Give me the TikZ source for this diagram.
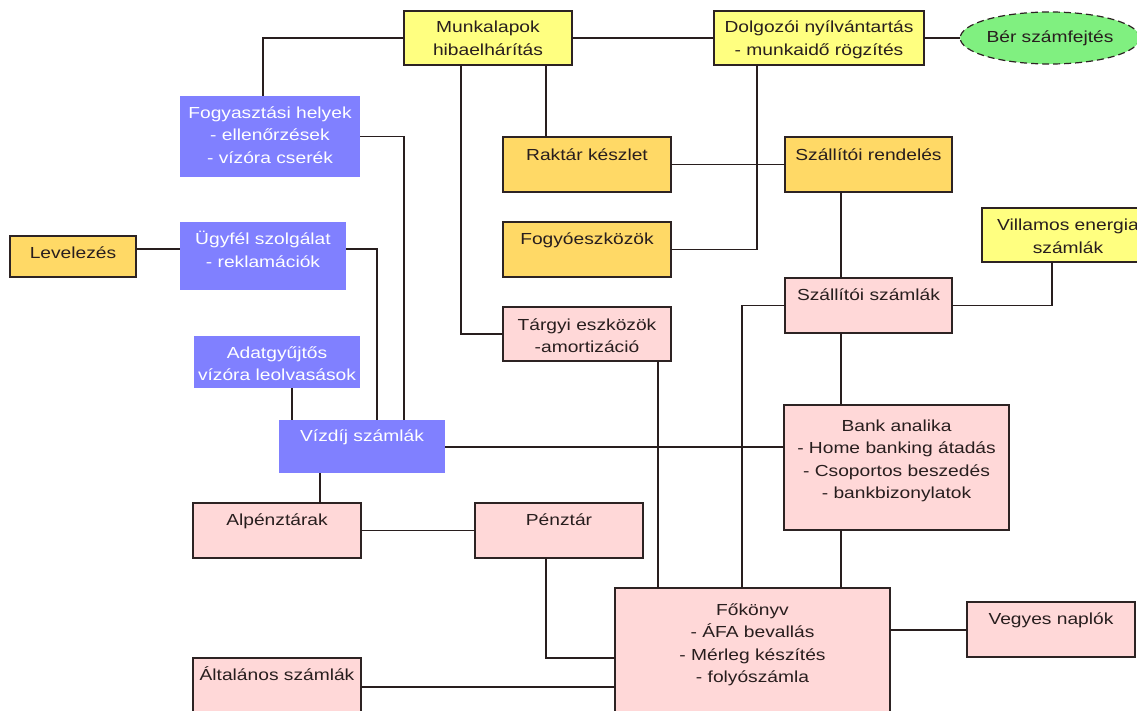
\documentclass[tikz,border=0pt]{standalone}
\usepackage{fontspec}
\setmainfont[FakeStretch=1.2]{Liberation Sans}
\usetikzlibrary{fit,shapes.geometric,calc}
\definecolor{cyel}{RGB}{255,255,128}
\definecolor{corg}{RGB}{255,217,102}
\definecolor{cblu}{RGB}{128,128,255}
\definecolor{cpnk}{RGB}{255,216,216}
\definecolor{cgrn}{RGB}{128,240,128}
\definecolor{cedge}{RGB}{45,35,35}
\definecolor{ctxt}{RGB}{40,30,30}
\tikzset{
 boxbase/.style={rectangle, inner sep=0pt, outer sep=0pt, line width=1.2pt, draw=cedge},
 yel/.style={boxbase, fill=cyel},
 org/.style={boxbase, fill=corg},
 pnk/.style={boxbase, fill=cpnk},
 blu/.style={rectangle, inner sep=0pt, outer sep=0pt, fill=cblu},
 txt/.style={inner sep=0pt, align=center, text height=11pt, text depth=0pt, font=\fontsize{16}{22.5}\selectfont, text=ctxt},
 wtxt/.style={txt, text=white},
 ell/.style={ellipse, draw=cedge, line width=1.2pt, dash pattern=on 7pt off 4pt, fill=cgrn, minimum width=166pt, minimum height=52pt, inner sep=0pt, align=center, font=\fontsize{16}{22.5}\selectfont, text=ctxt},
 link/.style={line width=1.1pt, draw=ctxt},
}
% #6 = y of the centre of the LAST text line
\newcommand\bx[7]{\node[#1, fit={(#3) (#4)}] (#2) {};
  \node[#5] (#2-t) at (#2.center |- 0,#6) {#7};}
\begin{document}
\begin{tikzpicture}[x=1pt,y=-1pt]
\clip (0,0) rectangle (1137,711);
\fill[white] (0,0) rectangle (1137,711);
% boxes
\bx{yel}{mk}{404,11}{572,65}{txt}{50}{Munkalapok\\hibaelhárítás}
\bx{yel}{dg}{714,11}{924,65}{txt}{50}{Dolgozói nyílvántartás\\- munkaidő rögzítés}
\node[ell] (ber) at (1050,38) {Bér számfejtés};
\bx{blu}{fh}{180,96}{360,177}{wtxt}{158}{Fogyasztási helyek\\- ellenőrzések\\- vízóra cserék}
\bx{org}{rk}{503,137}{671,192}{txt}{155}{Raktár készlet}
\bx{org}{szr}{785,137}{952,192}{txt}{155}{Szállítói rendelés}
\bx{org}{lev}{10,236}{136,277}{txt}{253}{Levelezés}
\bx{blu}{ugy}{180,222}{346,290}{wtxt}{262}{Ügyfél szolgálat\\- reklamációk}
\bx{org}{fogy}{503,222}{671,277}{txt}{239}{Fogyóeszközök}
\bx{yel}{vill}{982,208}{1154,262}{txt}{248}{Villamos energia\\számlák}
\bx{pnk}{szsz}{785,278}{952,333}{txt}{295}{Szállítói számlák}
\bx{pnk}{tg}{503,307}{671,361}{txt}{347}{Tárgyi eszközök\\-amortizáció}
\bx{blu}{adat}{194,336}{360,388}{wtxt}{375}{Adatgyűjtős\\vízóra leolvasások}
\bx{blu}{viz}{279,420}{445,473}{wtxt}{436}{Vízdíj számlák}
\bx{pnk}{bank}{784,405}{1009,530}{txt}{493}{Bank analika\\- Home banking átadás\\- Csoportos beszedés\\- bankbizonylatok}
\bx{pnk}{alp}{193,503}{361,558}{txt}{520}{Alpénztárak}
\bx{pnk}{penz}{475,503}{643,558}{txt}{520}{Pénztár}
\bx{pnk}{fok}{615,588}{890,725}{txt}{677}{Főkönyv\\- ÁFA bevallás\\- Mérleg készítés\\- folyószámla}
\bx{pnk}{veg}{967,602}{1135,657}{txt}{619}{Vegyes naplók}
\bx{pnk}{alt}{193,658}{361,725}{txt}{675}{Általános számlák}
% connectors
\draw[link] (mk.west) -| (fh.north -| 263,0);
\draw[link] (mk.east) -- (dg.west);
\draw[link] (dg.east) -- (ber.west);
\draw[link] (mk.south -| 546,0) -- (rk.north -| 546,0);
\draw[link] (mk.south -| 461,0) |- (tg.west);
\draw[link] (dg.south -| 757,0) |- (fogy.east);
\draw[link] (rk.east) -- (szr.west);
\draw[link] (szr.south -| 841,0) -- (szsz.north -| 841,0);
\draw[link] (szsz.east) -| (vill.south -| 1052,0);
\draw[link] (szsz.west) -| (fok.north -| 742,0);
\draw[link] (szsz.south -| 841,0) -- (bank.north -| 841,0);
\draw[link] (bank.south -| 841,0) -- (fok.north -| 841,0);
\draw[link] (tg.south -| 658,0) -- (fok.north -| 658,0);
\draw[link] (viz.east |- 0,447) -- (bank.west |- 0,447);
\draw[link] (fh.east) -| (viz.north -| 404,0);
\draw[link] (ugy.east |- 0,249) -| (viz.north -| 377,0);
\draw[link] (lev.east |- 0,249) -- (ugy.west |- 0,249);
\draw[link] (adat.south -| 292,0) -- (viz.north -| 292,0);
\draw[link] (viz.south -| 320,0) -- (alp.north -| 320,0);
\draw[link] (alp.east) -- (penz.west);
\draw[link] (penz.south -| 546,0) |- (fok.west |- 0,658);
\draw[link] (alt.east |- 0,687) -- (fok.west |- 0,687);
\draw[link] (fok.east |- 0,630) -- (veg.west |- 0,630);
\end{tikzpicture}
\end{document}
